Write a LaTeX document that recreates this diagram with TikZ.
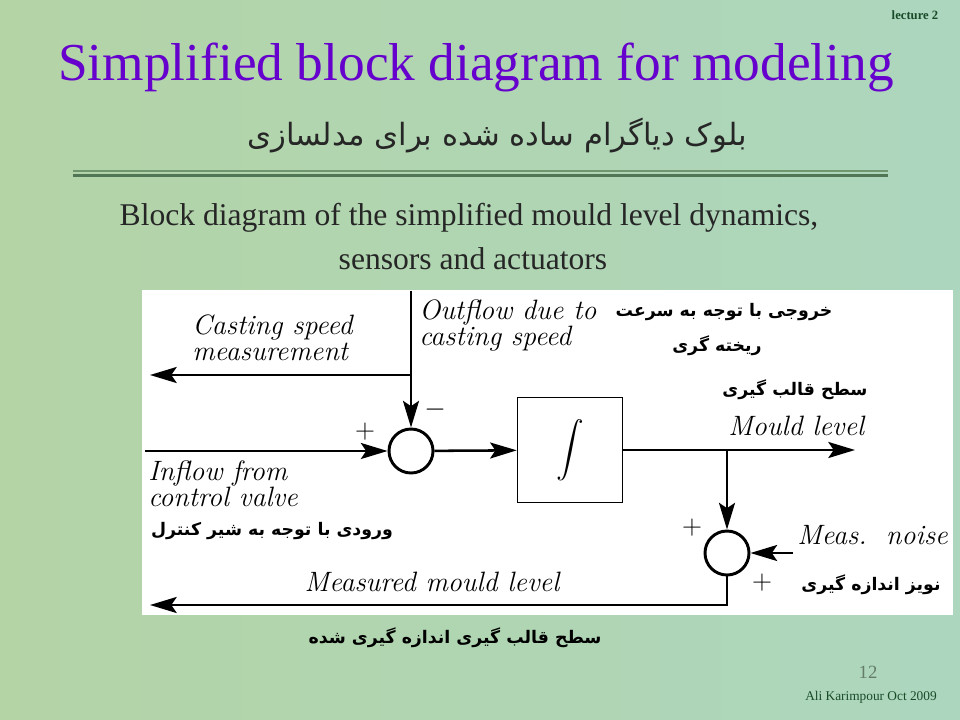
\documentclass[tikz,border=0pt]{standalone}
\usepackage{fontspec}
\usepackage{amsmath}
\usepackage{xcolor}
\usepackage{tikz}
\usetikzlibrary{arrows.meta}
\newfontfamily\timesfont{Liberation Serif}
\newfontfamily\arabicfont[Script=Arabic]{DejaVu Sans}
\TeXXeTstate=1
\definecolor{titlepurple}{RGB}{102,0,204}
\definecolor{darkgreen}{RGB}{25,75,40}
\definecolor{rulegreen}{RGB}{80,118,86}

\begin{document}
\begin{tikzpicture}[x=0.75pt,y=-0.75pt,
  flow/.style={line width=1.9pt,-{Stealth[length=20pt,width=12pt,inset=4pt]}},
  sumnode/.style={circle,draw,line width=2.2pt,minimum size=33pt,inner sep=0pt},
  lbl/.style={font=\fontsize{21}{19}\selectfont\itshape,inner sep=0pt,align=left},
  fa/.style={font=\fontsize{13}{18}\selectfont\arabicfont\bfseries,inner sep=0pt},
  sgn/.style={font=\fontsize{20}{20}\selectfont,inner sep=0pt}]
\useasboundingbox (0,0) rectangle (960,720);
\shade[left color={rgb,255:red,180;green,212;blue,166},middle color={rgb,255:red,206;green,226;blue,182},right color={rgb,255:red,172;green,214;blue,190}] (0,0) rectangle (960,720);

\node[font=\timesfont\bfseries\fontsize{9.5}{10}\selectfont,text=darkgreen] (lect) at (915,15) {lecture 2};
\node[font=\timesfont\fontsize{40}{44}\selectfont,text=titlepurple] (title) at (476,67) {Simplified block diagram for modeling};
\node[font=\arabicfont\fontsize{23}{26}\selectfont,text=black!85] (subtitle) at (497,136) {\beginR بلوک دیاگرام ساده شده برای مدلسازی\endR};
\draw[line width=1.5pt,color={rgb,255:red,112;green,150;blue,112}] (73,171) -- (888,171);
\draw[line width=2.5pt,color=rulegreen] (73,175.5) -- (888,175.5);
\node[font=\timesfont\fontsize{23.7}{26}\selectfont,text=black!85] (cap1) at (469,218) {Block diagram of the simplified mould level dynamics,};
\node[font=\timesfont\fontsize{23.7}{26}\selectfont,text=black!85] (cap2) at (473,259) {sensors and actuators};

\fill[white] (142,290) rectangle (953,615);

\node[sumnode] (sumA) at (411,451) {};
\node[draw,line width=1.1pt,minimum size=78.75pt,inner sep=0pt] (integ) at (570,450) {\fontsize{20}{20}\selectfont$\displaystyle\int$};
\node[sumnode] (sumB) at (727,553) {};
\coordinate (top) at (411,291);
\coordinate (castJ) at (411,375);
\coordinate (cast) at (150,375);
\coordinate (inflow) at (145,451);
\coordinate (branch) at (727,450);
\coordinate (mould) at (855,450);
\coordinate (noise) at (793,553);
\coordinate (meas) at (150,605);

\draw[flow] (top) -- (sumA);
\draw[flow] (castJ) -- (cast);
\draw[flow] (inflow) -- (sumA);
\draw[flow] (sumA) -- (integ);
\draw[flow] (integ) -- (mould);
\draw[flow] (branch) -- (sumB);
\draw[flow] (noise) -- (sumB);
\draw[flow] (sumB) |- (meas);

\node[sgn] (minusA) at (435,410) {$-$};
\node[sgn] (plusA) at (365,432) {$+$};
\node[sgn] (plusB) at (692,528) {$+$};
\node[sgn] (plusC) at (762,583) {$+$};

\node[lbl,anchor=north west] (castTxt) at (192,315) {Casting speed\\measurement};
\node[lbl,anchor=north west] (outTxt) at (419,300) {Outflow due to\\casting speed};
\node[lbl,anchor=north west] (inTxt) at (148,461) {Inflow from\\control valve};
\node[lbl,anchor=west] (mouldTxt) at (728,426) {Mould level};
\node[lbl,anchor=west] (noiseTxt) at (797,535) {Meas.\ \ noise};
\node[lbl] (measTxt) at (432,582) {Measured mould level};

\node[fa] (outFa) at (724,312) {\beginR خروجی با توجه به سرعت\endR};
\node[fa] (outFb) at (717,346) {\beginR ریخته گری\endR};
\node[fa] (mouldFa) at (795,390) {\beginR سطح قالب گیری\endR};
\node[fa] (inFa) at (272,531) {\beginR ورودی با توجه به شیر کنترل\endR};
\node[fa] (noiseFa) at (871,585) {\beginR نویز اندازه گیری\endR};
\node[fa] (measFa) at (455,638) {\beginR سطح قالب گیری اندازه گیری شده\endR};

\node[font=\timesfont\fontsize{14}{16}\selectfont,text={rgb,255:red,100;green,125;blue,105}] (page) at (868,672) {12};
\node[font=\timesfont\fontsize{10}{12}\selectfont,text=darkgreen] (author) at (871,697) {Ali Karimpour Oct 2009};
\end{tikzpicture}
\end{document}
